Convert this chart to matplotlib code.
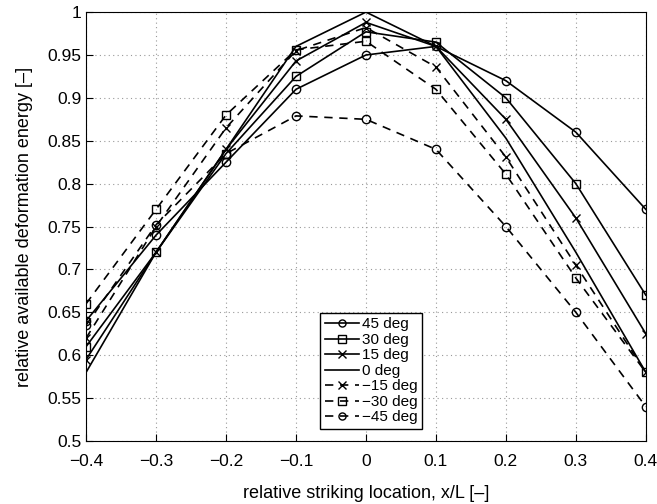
import numpy as np
from matplotlib import pyplot as plt

plt.rcParams['font.family'] = ['Liberation Sans', 'DejaVu Sans']

x_loc = [-0.4, -0.3, -0.2, -0.1, 0.0, 0.1, 0.2, 0.3, 0.4]

e_p45 = [0.64, 0.74, 0.825, 0.91, 0.95, 0.96, 0.92, 0.86, 0.77]
e_p30 = [0.61, 0.72, 0.835, 0.925, 0.977, 0.965, 0.90, 0.80, 0.67]
e_p15 = [0.595, 0.72, 0.84, 0.943, 0.988, 0.96, 0.875, 0.76, 0.625]
e_0 = [0.58, 0.72, 0.84, 0.96, 1.0, 0.96, 0.853, 0.72, 0.58]
e_m15 = [0.62, 0.75, 0.865, 0.955, 0.982, 0.936, 0.831, 0.705, 0.58]
e_m30 = [0.66, 0.77, 0.88, 0.956, 0.966, 0.91, 0.811, 0.69, 0.58]
e_m45 = [0.635, 0.752, 0.835, 0.879, 0.875, 0.84, 0.75, 0.65, 0.54]

labels = ['45 deg', '30 deg', '15 deg', '0 deg', '\u221215 deg', '\u221230 deg', '\u221245 deg']
series = [e_p45, e_p30, e_p15, e_0, e_m15, e_m30, e_m45]
styles = ['o-', 's-', 'x-', '-', 'x--', 's--', 'o--']

fig = plt.figure(figsize=(6.57, 5.04), dpi=100)
ax = fig.add_axes([0.131, 0.125, 0.852, 0.851])

for y, st, lab in zip(series, styles, labels):
    ax.plot(x_loc, y, st, color='black', lw=1.2, ms=6, mfc='none', mew=1.0,
            label=lab, dashes=(5, 4) if '--' in st else (None, None))

ax.set_xlim(-0.4, 0.4)
ax.set_ylim(0.5, 1.0)
ax.set_xticks(np.arange(-0.4, 0.41, 0.1))
ax.set_yticks(np.arange(0.5, 1.001, 0.05))
ax.set_xticklabels(['\u22120.4', '\u22120.3', '\u22120.2', '\u22120.1', '0', '0.1', '0.2', '0.3', '0.4'])
ax.set_yticklabels(['0.5', '0.55', '0.6', '0.65', '0.7', '0.75', '0.8', '0.85', '0.9', '0.95', '1'])
ax.tick_params(direction='in', labelsize=12.5, length=5)
ax.tick_params(axis='x', pad=9)
ax.grid(True, linestyle=(0, (1, 3)), color='#999999', lw=0.8)
ax.set_xlabel('relative striking location, x/L [\u2013]', fontsize=13, labelpad=12)
ax.set_ylabel('relative available deformation energy [\u2013]', fontsize=13, labelpad=10)

leg = ax.legend(loc='lower left', bbox_to_anchor=(0.405, 0.01), fontsize=11,
                handlelength=2.2, labelspacing=0.1, borderpad=0.3,
                handletextpad=0.2, markerscale=0.85, fancybox=False,
                framealpha=1, edgecolor='black')
leg.get_frame().set_linewidth(1.0)

fig.savefig('out.png', dpi=100)
